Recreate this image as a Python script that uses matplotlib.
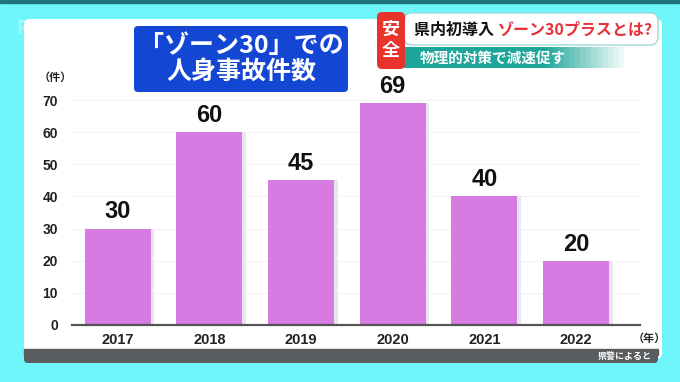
import matplotlib.pyplot as plt
from matplotlib.patches import FancyBboxPatch, Rectangle

plt.rcParams['font.family'] = ['Noto Sans CJK JP', 'DejaVu Sans']
NUM_FONT = ['Liberation Sans', 'DejaVu Sans']

# data
years = ["2017", "2018", "2019", "2020", "2021", "2022"]
accidents = [30, 60, 45, 69, 40, 20]
yticks = [0, 10, 20, 30, 40, 50, 60, 70]

title_text = "「ゾーン30」での\n人身事故件数"
banner_main = "県内初導入 "
banner_red = "ゾーン30プラスとは?"
banner_sub = "物理的対策で減速促す"
badge = "安\n全"
source = "県警によると"

W, H = 680, 382
fig = plt.figure(figsize=(W / 100, H / 100), dpi=100)
fig.patch.set_facecolor('#6ef6fa')

# ── background canvas in pixel coords ─────────────
bg = fig.add_axes([0, 0, 1, 1])
bg.set_xlim(0, W)
bg.set_ylim(H, 0)
bg.axis('off')

bg.add_patch(Rectangle((0, 0), W, 3, color='#22727a'))
bg.text(16, 28, "RKB", color='white', alpha=0.35, fontsize=13, fontweight='bold',
        va='center', ha='left')
# white panel
bg.add_patch(FancyBboxPatch((24, 19), 638, 340, boxstyle="round,pad=0,rounding_size=6",
                            fc='white', ec='none'))
# bottom dark strip
bg.add_patch(FancyBboxPatch((24, 349), 634, 14, boxstyle="round,pad=0,rounding_size=4",
                            fc='#5a5d5f', ec='none'))
bg.add_patch(Rectangle((24, 349), 634, 6, color='#5a5d5f'))
bg.text(652, 356, source, color='white', fontsize=6.5, fontweight='bold',
        ha='right', va='center')

# title box
bg.add_patch(FancyBboxPatch((134, 26), 214, 66, boxstyle="round,pad=0,rounding_size=4",
                            fc='#1446d4', ec='none'))
bg.text(241, 59, title_text, color='white', fontsize=18, fontweight='bold',
        ha='center', va='center', linespacing=1.1)

# top right banner
bg.add_patch(FancyBboxPatch((404, 13), 254, 32, boxstyle="round,pad=0,rounding_size=8",
                            fc='white', ec='#9fd9d6', lw=1))
for i in range(40):
    a = 1 - max(0, (i - 25) / 15)
    bg.add_patch(Rectangle((404 + i * 5.5, 47), 5.6, 21, color='#1fa69a', alpha=a, lw=0))
bg.add_patch(FancyBboxPatch((377, 12), 28, 57, boxstyle="round,pad=0,rounding_size=5",
                            fc='#e8322c', ec='none'))
bg.text(391, 40, badge, color='white', fontsize=13, fontweight='bold',
        ha='center', va='center', linespacing=1.1)
t = bg.text(414, 30, banner_main, color='#111111', fontsize=11.5, fontweight='bold',
            ha='left', va='center')
fig.canvas.draw()
x_end = t.get_window_extent().x1
bg.annotate(banner_red, xy=(x_end, H - 30), xycoords='figure pixels', color='#e8323a',
            fontsize=11.5, fontweight='bold', ha='left', va='center')
bg.text(420, 58, banner_sub, color='white', fontsize=10.5, fontweight='bold',
        ha='left', va='center')

# ── main chart ─────────────────────────────────────
ax = fig.add_axes([72 / W, 1 - 325 / H, 568 / W, (325 - 84) / H])
ax.set_facecolor('none')
x = range(len(years))
ax.bar([i + 0.04 for i in x], accidents, width=0.72, color='#e3e9ee', zorder=1)
ax.bar(x, accidents, width=0.72, color='#d77ae2', zorder=2)
for i, v in enumerate(accidents):
    ax.text(i, v + 1.6, str(v), ha='center', va='bottom', fontsize=17,
            fontweight='bold', color='#111111', family=NUM_FONT)

ax.set_xlim(-0.5, 5.7)
ax.set_ylim(0, 75)
ax.set_yticks(yticks)
ax.set_yticklabels([str(v) for v in yticks], fontsize=10, fontweight='bold',
                   color='#222222', family=NUM_FONT)
ax.set_xticks(list(x))
ax.set_xticklabels(years, fontsize=10.5, fontweight='bold', color='#222222', family=NUM_FONT)
ax.tick_params(axis='both', length=0)
ax.tick_params(axis='y', pad=10)
ax.tick_params(axis='x', pad=6)
for s in ['top', 'right', 'left']:
    ax.spines[s].set_visible(False)
ax.spines['bottom'].set_color('#555555')
ax.spines['bottom'].set_linewidth(1.6)
ax.yaxis.grid(True, color='#f2f2f2', lw=0.8, zorder=0)
ax.set_axisbelow(True)

bg.text(55, 77, "（件）", fontsize=8, fontweight='bold', color='#222222',
        ha='center', va='center')
bg.text(649, 338, "（年）", fontsize=8, fontweight='bold', color='#222222',
        ha='center', va='center')

fig.savefig('out.png', dpi=100)
